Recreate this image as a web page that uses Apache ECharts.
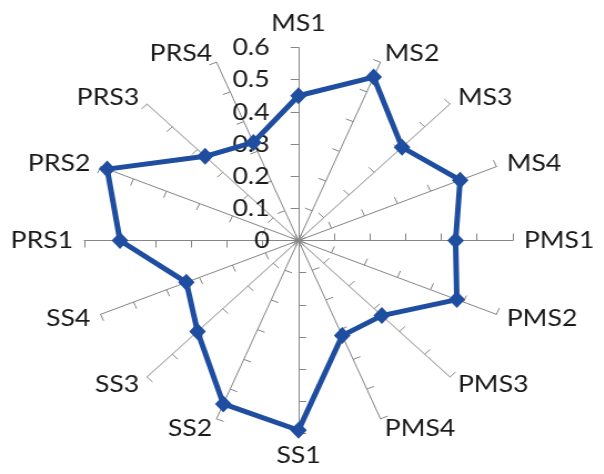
<!DOCTYPE html>
<html>
<head>
<meta charset="utf-8">
<script src="https://cdn.jsdelivr.net/npm/echarts@6/dist/echarts.min.js"></script>
<style>
html,body{margin:0;padding:0;background:#fff;overflow:hidden;}
#wrap{width:604px;height:474px;overflow:hidden;position:relative;}
#chart{width:544px;height:474px;transform:scaleX(1.11);transform-origin:0 0;}
</style>
</head>
<body>
<div id="wrap"><div id="chart"></div></div>
<script>
// Categories in clockwise order starting at the top
const categories = ['MS1','MS2','MS3','MS4','PMS1','PMS2','PMS3','PMS4','SS1','SS2','SS3','SS4','PRS1','PRS2','PRS3','PRS4'];
const values = [0.45,0.55,0.41,0.49,0.44,0.48,0.33,0.32,0.59,0.55,0.40,0.34,0.50,0.58,0.37,0.33];
const tickLabels = ['0','0.1','0.2','0.3','0.4','0.5','0.6'];
const axisMax = 0.6;

// ECharts radar runs counter-clockwise; reorder so the picture runs clockwise
const order = [0].concat(categories.map((_, i) => i).slice(1).reverse());
const indicators = order.map((i, k) => {
  const ind = { name: categories[i], min: 0, max: axisMax };
  if (k === 0) {
    ind.axisLabel = {
      show: true, fontSize: 24, fontFamily: 'Lato', color: '#1a1a1a', margin: 26,
      formatter: (v) => { const idx = Math.round(v * 10); return tickLabels[idx] !== undefined ? tickLabels[idx] : ''; }
    };
  }
  return ind;
});
const seriesValues = order.map(i => values[i]);

const chart = echarts.init(document.getElementById('chart'), null, { renderer: 'canvas' });
chart.setOption({
  backgroundColor: '#ffffff',
  animation: false,
  radar: {
    center: [268.9, 240.5],
    radius: 193,
    startAngle: 90,
    splitNumber: 6,
    shape: 'polygon',
    nameGap: 10,
    axisName: { color: '#1a1a1a', fontSize: 24, fontFamily: 'Lato' },
    splitLine: { show: false },
    splitArea: { show: false },
    axisLine: { show: true, lineStyle: { color: '#858585', width: 1 } },
    axisTick: { show: true, length: 7, lineStyle: { color: '#858585', width: 1 } },
    axisLabel: { show: false },
    indicator: indicators
  },
  series: [{
    type: 'radar',
    symbol: 'diamond',
    symbolSize: [15, 17],
    lineStyle: { color: '#1f4ea0', width: 5 },
    itemStyle: { color: '#1f4ea0' },
    data: [{ value: seriesValues, name: 'Series' }]
  }]
});
</script>
</body>
</html>
